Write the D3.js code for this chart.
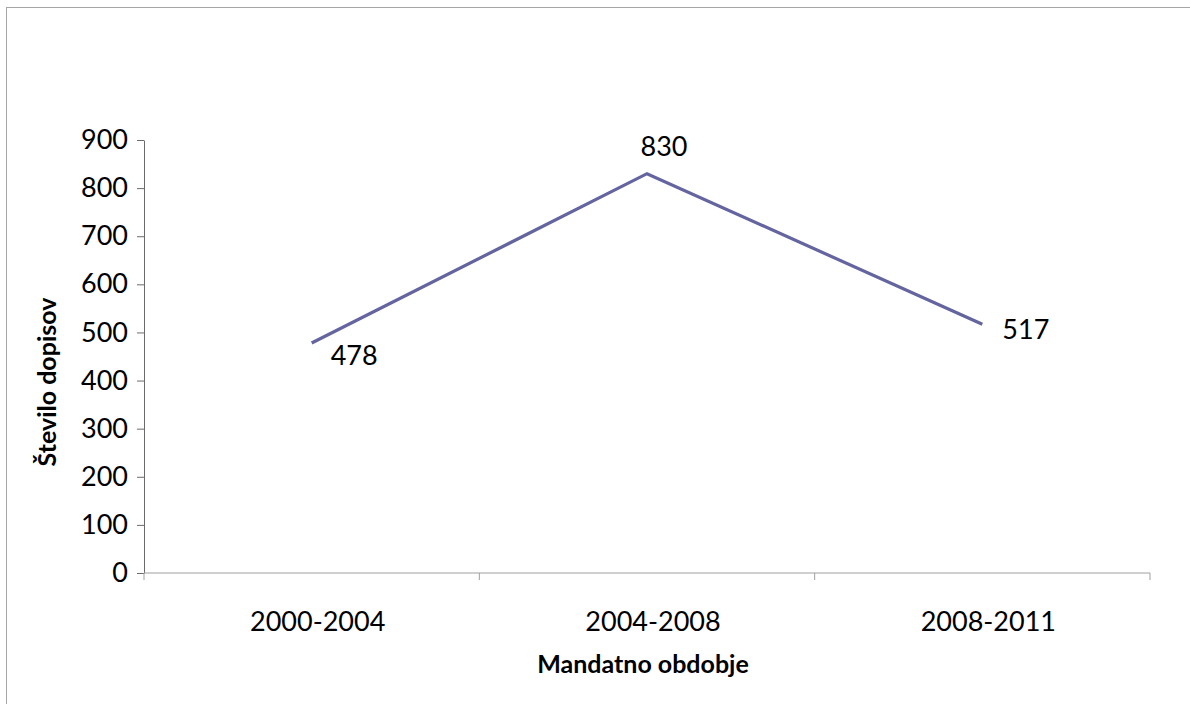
<!DOCTYPE html>
<html><head><meta charset="utf-8">
<script src="https://cdn.jsdelivr.net/npm/d3@7"></script>
<style>body{margin:0;background:#fff}svg{display:block}</style>
</head><body>
<svg id="c" width="1190" height="704"></svg>
<script>
const categories = ["2000-2004", "2004-2008", "2008-2011"];
const values = [478, 830, 517];
const yTicks = [0, 100, 200, 300, 400, 500, 600, 700, 800, 900];
const xTitle = "Mandatno obdobje";
const yTitle = "Število dopisov";

const svg = d3.select("#c");
const font = "Lato, 'Open Sans', sans-serif";
const L = 144, R = 1150, T = 140, B = 573;

svg.append("rect").attr("x", 6.5).attr("y", 7.5).attr("width", 1200).attr("height", 720)
  .attr("fill", "none").attr("stroke", "#a6a6a6").attr("stroke-width", 1);

const x = d3.scaleBand().domain(categories).range([L, R]);
const y = d3.scaleLinear().domain([0, 900]).range([B, T]);

// y axis
const ya = svg.append("g").attr("transform", `translate(${L},0)`)
  .call(d3.axisLeft(y).tickValues(yTicks).tickSize(7).tickPadding(9).tickSizeOuter(0));
ya.select(".domain").attr("stroke", "#6b6b6b");
ya.selectAll(".tick line").attr("stroke", "#6b6b6b");
ya.selectAll("text").attr("font-family", font).attr("font-size", 27).attr("fill", "#000");

// x axis
const xg = svg.append("g").attr("transform", `translate(0,${B})`);
xg.append("line").attr("x1", L).attr("x2", R).attr("stroke", "#a0a0a0").attr("stroke-width", 1.2);
const edges = categories.map(c => x(c)).concat([x(categories[categories.length-1]) + x.bandwidth()]);
xg.selectAll("line.t").data(edges).join("line").attr("class", "t")
  .attr("x1", d => d).attr("x2", d => d).attr("y1", 0).attr("y2", 7).attr("stroke", "#a0a0a0");
xg.selectAll("text").data(categories).join("text")
  .attr("x", d => x(d) + x.bandwidth() / 2 + 6).attr("y", 58)
  .attr("text-anchor", "middle").attr("font-family", font).attr("font-size", 27).text(d => d);

// line
const px = (d, i) => x(categories[i]) + x.bandwidth() / 2;
svg.append("path").datum(values)
  .attr("d", d3.line().x(px).y(d => y(d)))
  .attr("fill", "none").attr("stroke", "#6464a0").attr("stroke-width", 3.2);

// labels
const offs = [[19, 22, "start"], [17, -18, "middle"], [20, 15, "start"]];
svg.selectAll("text.lbl").data(values).join("text").attr("class", "lbl")
  .attr("x", (d, i) => px(d, i) + offs[i][0]).attr("y", (d, i) => y(d) + offs[i][1])
  .attr("text-anchor", (d, i) => offs[i][2])
  .attr("font-family", font).attr("font-size", 27).text(d => d);

// titles
svg.append("text").attr("x", 643).attr("y", 673).attr("text-anchor", "middle")
  .attr("font-family", font).attr("font-weight", "bold").attr("font-size", 25).text(xTitle);
svg.append("text").attr("transform", "translate(56,382) rotate(-90)").attr("text-anchor", "middle")
  .attr("font-family", font).attr("font-weight", "bold").attr("font-size", 25).text(yTitle);
</script>
</body></html>
